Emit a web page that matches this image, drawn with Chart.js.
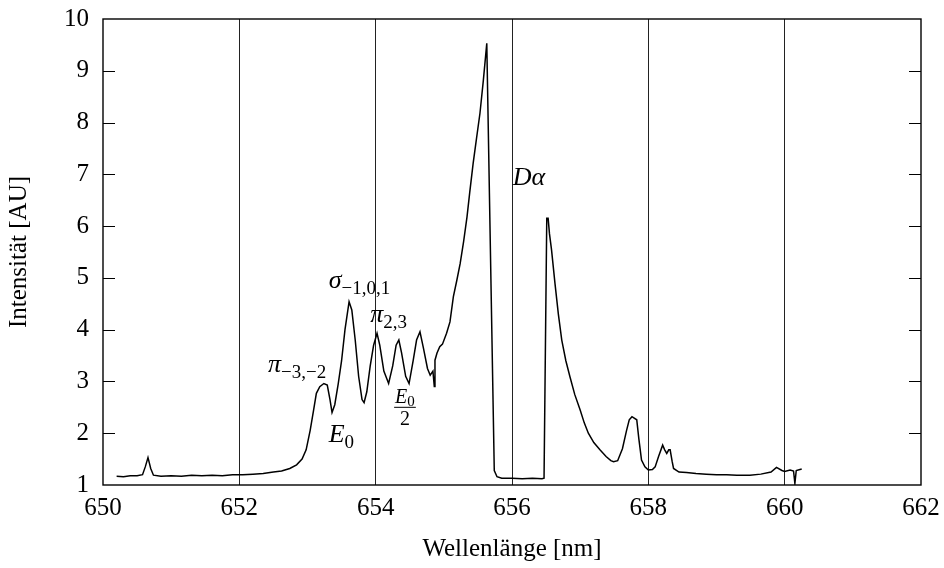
<!DOCTYPE html>
<html>
<head>
<meta charset="utf-8">
<script src="https://cdn.jsdelivr.net/npm/chart.js@4.4.1/dist/chart.umd.min.js"></script>
<style>
  html, body { margin: 0; background: #fff; }
  #wrap { width: 944px; height: 568px; }
</style>
</head>
<body>
<div id="wrap"><canvas id="spectrum"></canvas></div>
<script>
// wavelength in nm, intensity in AU
const wavelength = [
  650.20, 650.30, 650.40, 650.50, 650.58, 650.62, 650.66, 650.70, 650.74, 650.85,
  651.00, 651.15, 651.30, 651.45, 651.60, 651.75, 651.90, 652.05, 652.20, 652.35,
  652.50, 652.62, 652.74, 652.84, 652.92, 652.98, 653.04, 653.09, 653.13, 653.18,
  653.24, 653.29, 653.33, 653.36, 653.40, 653.45, 653.50, 653.55, 653.61, 653.65,
  653.70, 653.75, 653.80, 653.83, 653.87, 653.92, 653.97, 654.02, 654.06, 654.12,
  654.19, 654.25, 654.30, 654.34, 654.38, 654.44, 654.49, 654.55, 654.60, 654.65,
  654.70, 654.76, 654.80, 654.84, 654.86, 654.87, 654.90, 654.94, 654.98, 655.04,
  655.09, 655.14, 655.19, 655.24, 655.29, 655.34, 655.38, 655.43, 655.48, 655.53,
  655.58, 655.63, 655.74, 655.78, 655.85, 656.00, 656.15, 656.30, 656.44, 656.47,
  656.51, 656.53, 656.55, 656.58, 656.63, 656.68, 656.73, 656.79, 656.85, 656.92,
  657.00, 657.06, 657.12, 657.20, 657.29, 657.38, 657.45, 657.49, 657.55, 657.62,
  657.68, 657.72, 657.76, 657.83, 657.86, 657.90, 657.95, 658.00, 658.06, 658.10,
  658.15, 658.21, 658.24, 658.27, 658.30, 658.32, 658.35, 658.37, 658.45, 658.56,
  658.70, 658.85, 659.00, 659.15, 659.30, 659.49, 659.65, 659.80, 659.88, 659.96,
  660.00, 660.08, 660.13, 660.15, 660.17, 660.25
];
const intensity = [
  1.17, 1.16, 1.18, 1.18, 1.20, 1.35, 1.53, 1.32, 1.19, 1.17,
  1.18, 1.17, 1.19, 1.18, 1.19, 1.18, 1.20, 1.20, 1.21, 1.22,
  1.25, 1.27, 1.32, 1.39, 1.50, 1.68, 2.06, 2.45, 2.77, 2.90,
  2.96, 2.93, 2.65, 2.40, 2.55, 2.95, 3.40, 4.00, 4.54, 4.38,
  3.80, 3.10, 2.65, 2.59, 2.80, 3.30, 3.70, 3.93, 3.70, 3.20,
  2.96, 3.30, 3.70, 3.80, 3.55, 3.10, 2.96, 3.40, 3.80, 3.96,
  3.65, 3.25, 3.12, 3.20, 2.90, 3.41, 3.55, 3.67, 3.72, 3.93,
  4.15, 4.64, 4.95, 5.28, 5.70, 6.18, 6.65, 7.21, 7.70, 8.18,
  8.82, 9.53, 1.28, 1.16, 1.13, 1.13, 1.12, 1.13, 1.12, 1.13,
  6.15, 6.15, 5.85, 5.54, 4.90, 4.30, 3.80, 3.40, 3.09, 2.75,
  2.45, 2.20, 2.00, 1.82, 1.68, 1.55, 1.47, 1.45, 1.47, 1.70,
  2.05, 2.26, 2.32, 2.26, 1.90, 1.48, 1.35, 1.29, 1.30, 1.35,
  1.55, 1.77, 1.68, 1.61, 1.68, 1.68, 1.45, 1.32, 1.25, 1.24,
  1.22, 1.21, 1.20, 1.20, 1.19, 1.19, 1.21, 1.25, 1.34, 1.28,
  1.26, 1.29, 1.27, 1.03, 1.28, 1.31
];
const xRange = [650, 662];
const yRange = [1, 10];

const SERIF = '"Liberation Serif", "DejaVu Serif", serif';

// peak labels: [text, kind] with kind 'i' = italic symbol, 's' = subscript
const notes = [
  { x: 652.42, y: 3.19, parts: [['π', 'i'], ['−3,−2', 's']] },
  { x: 653.31, y: 4.80, parts: [['σ', 'i'], ['−1,0,1', 's']] },
  { x: 653.92, y: 4.15, parts: [['π', 'i'], ['2,3', 's']] },
  { x: 653.31, y: 1.84, parts: [['E', 'i'], ['0', 's']] },
  { x: 656.01, y: 6.79, parts: [['D', 'i'], ['α', 'i']] }
];
const fraction = { x: 654.43, y: 2.51 };

function drawParts(ctx, x, y, parts, big, small, sub) {
  let cx = x;
  for (const [t, kind] of parts) {
    ctx.font = kind === 'i' ? 'italic ' + big + 'px ' + SERIF : small + 'px ' + SERIF;
    ctx.fillText(t, cx, kind === 's' ? y + sub : y);
    cx += ctx.measureText(t).width;
  }
  return cx - x;
}

const decorations = {
  id: 'decorations',
  afterDraw(chart) {
    const { ctx, chartArea: a, scales: { x, y } } = chart;
    ctx.save();
    ctx.strokeStyle = '#000';
    ctx.lineWidth = 1.4;
    ctx.strokeRect(a.left, a.top, a.right - a.left, a.bottom - a.top);

    // inward ticks on left and right
    ctx.lineWidth = 1;
    for (let v = yRange[0] + 1; v < yRange[1]; v++) {
      const py = Math.round(y.getPixelForValue(v)) + 0.5;
      ctx.beginPath();
      ctx.moveTo(a.left, py); ctx.lineTo(a.left + 12, py);
      ctx.moveTo(a.right - 12, py); ctx.lineTo(a.right, py);
      ctx.stroke();
    }

    ctx.fillStyle = '#000';
    ctx.textBaseline = 'alphabetic';
    ctx.textAlign = 'left';
    for (const n of notes) {
      drawParts(ctx, x.getPixelForValue(n.x), y.getPixelForValue(n.y), n.parts, 26, 19, 6);
    }

    // E0 / 2
    const fx = x.getPixelForValue(fraction.x);
    const fy = y.getPixelForValue(fraction.y);
    ctx.font = 'italic 20px ' + SERIF;
    const wE = ctx.measureText('E').width;
    ctx.font = '15px ' + SERIF;
    const w0 = ctx.measureText('0').width;
    const wNum = wE + w0;
    drawParts(ctx, fx - wNum / 2, fy - 4, [['E', 'i'], ['0', 's']], 20, 15, 3);
    ctx.beginPath();
    ctx.moveTo(fx - wNum / 2 - 1, fy + 0.5);
    ctx.lineTo(fx + wNum / 2 + 1, fy + 0.5);
    ctx.stroke();
    ctx.font = '20px ' + SERIF;
    ctx.textAlign = 'center';
    ctx.fillText('2', fx, fy + 18);
    ctx.restore();
  }
};

new Chart(document.getElementById('spectrum'), {
  type: 'line',
  data: {
    datasets: [{
      data: wavelength.map((w, i) => ({ x: w, y: intensity[i] })),
      borderColor: '#000',
      borderWidth: 1.5,
      pointRadius: 0,
      tension: 0,
      fill: false
    }]
  },
  options: {
    responsive: true,
    maintainAspectRatio: false,
    animation: false,
    devicePixelRatio: 1,
    layout: { padding: { left: 0, right: 23, top: 19, bottom: 0 } },
    plugins: { legend: { display: false }, tooltip: { enabled: false } },
    scales: {
      x: {
        type: 'linear',
        min: xRange[0],
        max: xRange[1],
        afterFit(s) { s.height = 83; s.paddingLeft = 0; s.paddingRight = 0; },
        ticks: { stepSize: 2, color: '#000', font: { family: SERIF, size: 25 }, padding: 8, maxRotation: 0 },
        grid: {
          drawTicks: false,
          color: c => (c.tick && (c.tick.value === xRange[0] || c.tick.value === xRange[1])) ? 'rgba(0,0,0,0)' : '#222',
          lineWidth: 1
        },
        border: { display: false },
        title: { display: true, text: 'Wellenlänge [nm]', color: '#000', font: { family: SERIF, size: 25 }, padding: { top: 4 } }
      },
      y: {
        min: yRange[0],
        max: yRange[1],
        afterFit(s) { s.width = 103; s.paddingTop = 0; s.paddingBottom = 0; },
        ticks: { stepSize: 1, color: '#000', font: { family: SERIF, size: 25 }, padding: 14 },
        grid: { display: false, drawTicks: false },
        border: { display: false },
        title: { display: true, text: 'Intensität [AU]', color: '#000', font: { family: SERIF, size: 25 }, padding: { bottom: 0 } }
      }
    }
  },
  plugins: [decorations]
});
</script>
</body>
</html>
